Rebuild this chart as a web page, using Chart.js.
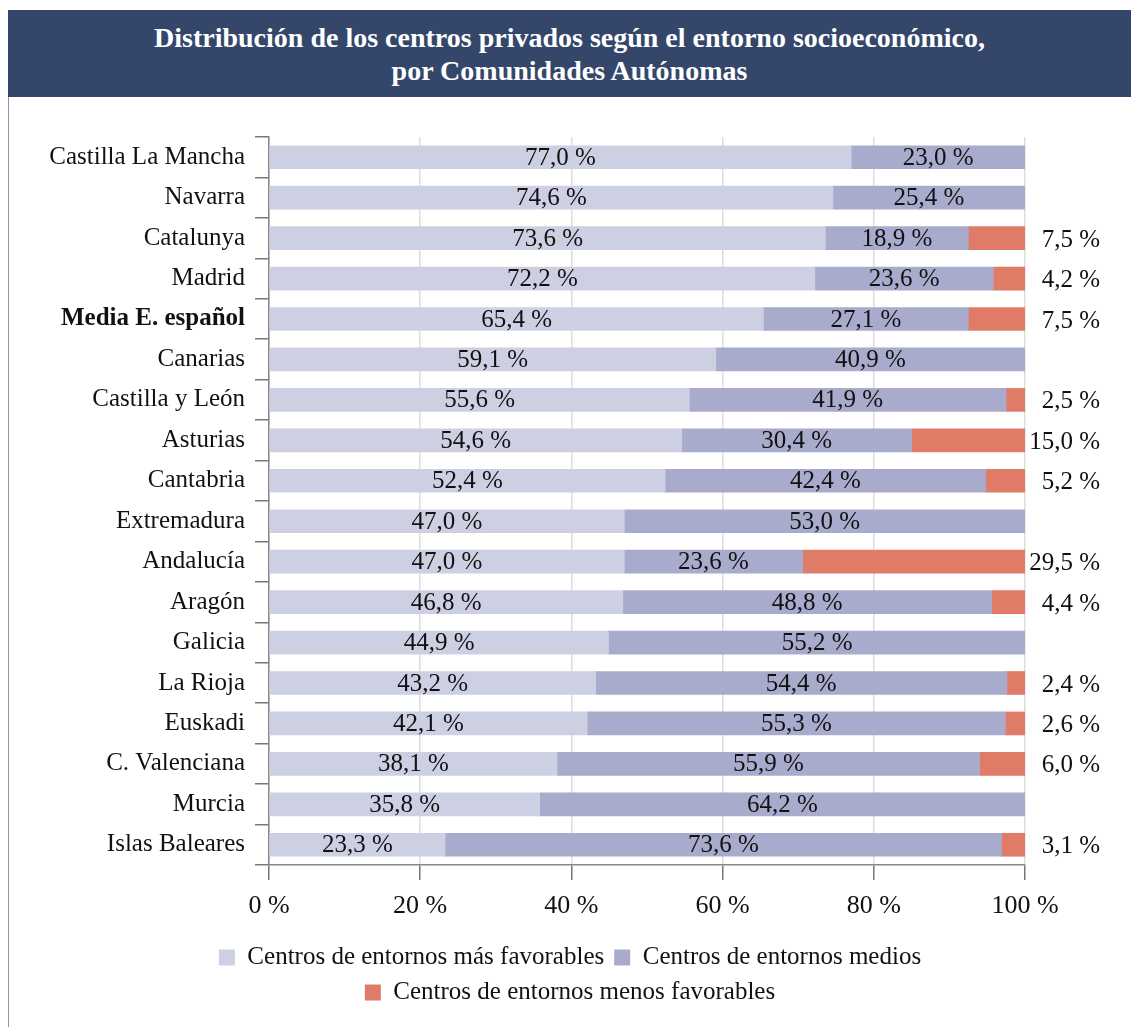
<!DOCTYPE html>
<html>
<head>
<meta charset="utf-8">
<script src="https://cdn.jsdelivr.net/npm/chart.js@4"></script>
<style>
  body { margin: 0; background: #fff; }
  #marco {
    position: absolute; left: 8px; top: 10px; width: 1123px; height: 1017px;
    border-left: 1px solid #8a97b3; box-sizing: border-box;
  }
  #titulo {
    background: #34476a; color: #fff; height: 87px;
    font-family: "Liberation Serif", serif; font-weight: bold; font-size: 28px;
    text-align: center; line-height: 33px; padding-top: 11px; box-sizing: border-box;
    margin-left: -1px;
  }
  #caja { position: relative; width: 1122px; height: 930px; }
</style>
</head>
<body>
<div id="marco">
  <div id="titulo">Distribución de los centros privados según el entorno socioeconómico,<br>por Comunidades Autónomas</div>
  <div id="caja"><canvas id="grafico"></canvas></div>
</div>
<script>
// Datos del gráfico
const comunidades = ["Castilla La Mancha", "Navarra", "Catalunya", "Madrid", "Media E. español", "Canarias",
  "Castilla y León", "Asturias", "Cantabria", "Extremadura", "Andalucía", "Aragón", "Galicia",
  "La Rioja", "Euskadi", "C. Valenciana", "Murcia", "Islas Baleares"];
const masFavorables = [77.0, 74.6, 73.6, 72.2, 65.4, 59.1, 55.6, 54.6, 52.4, 47.0, 47.0, 46.8, 44.9, 43.2, 42.1, 38.1, 35.8, 23.3];
const medios = [23.0, 25.4, 18.9, 23.6, 27.1, 40.9, 41.9, 30.4, 42.4, 53.0, 23.6, 48.8, 55.2, 54.4, 55.3, 55.9, 64.2, 73.6];
const menosFavorables = [null, null, 7.5, 4.2, 7.5, null, 2.5, 15.0, 5.2, null, 29.5, 4.4, null, 2.4, 2.6, 6.0, null, 3.1];
const ticksX = [0, 20, 40, 60, 80, 100];

const fuente = "Liberation Serif";

function formato(v) {
  return v.toFixed(1).replace(".", ",") + " %";
}

// Etiquetas de valor dentro de las barras (y fuera para la tercera serie)
const etiquetas = {
  id: "etiquetas",
  afterDatasetsDraw(chart) {
    const ctx = chart.ctx;
    ctx.save();
    ctx.font = "25px '" + fuente + "'";
    ctx.fillStyle = "#111";
    ctx.textBaseline = "middle";
    chart.data.datasets.forEach((ds, i) => {
      const meta = chart.getDatasetMeta(i);
      meta.data.forEach((bar, j) => {
        const v = ds.data[j];
        if (v === null || v === undefined) return;
        if (i < 2) {
          ctx.textAlign = "center";
          ctx.fillText(formato(v), (bar.x + bar.base) / 2, bar.y + 1);
        } else {
          ctx.textAlign = "right";
          ctx.fillText(formato(v), chart.chartArea.right + 75, bar.y + 2);
        }
      });
    });
    ctx.restore();
  }
};

new Chart(document.getElementById("grafico"), {
  type: "bar",
  data: {
    labels: comunidades,
    datasets: [
      { label: "Centros de entornos más favorables", data: masFavorables, backgroundColor: "#cdd0e3", barThickness: 23 },
      { label: "Centros de entornos medios", data: medios, backgroundColor: "#a8abcb", barThickness: 23 },
      { label: "Centros de entornos menos favorables", data: menosFavorables, backgroundColor: "#e07b67", barThickness: 23 }
    ]
  },
  options: {
    indexAxis: "y",
    responsive: true,
    maintainAspectRatio: false,
    animation: false,
    layout: { padding: { top: 40, right: 0, left: 0, bottom: 12 } },
    scales: {
      x: {
        stacked: true,
        min: 0,
        max: 100,
        afterBuildTicks: (scale) => { scale.ticks = ticksX.map(v => ({ value: v })); },
        afterFit: (scale) => { scale.height = 70; },
        grid: { color: "#dddddd", tickColor: "#777", tickLength: 15, lineWidth: 1.5 },
        border: { color: "#888", width: 1.5 },
        ticks: {
          color: "#111",
          padding: 11,
          font: { family: fuente, size: 26 },
          callback: (v) => v + " %"
        }
      },
      y: {
        stacked: true,
        afterFit: (scale) => { scale.width = 260; },
        grid: { offset: true, drawOnChartArea: false, color: "#777", tickLength: 14, lineWidth: 1.5 },
        border: { color: "#888", width: 1.5 },
        ticks: {
          color: "#111",
          padding: 10,
          font: (c) => ({ family: fuente, size: 25, weight: c.index === 4 ? "bold" : "normal" })
        }
      },
      // eje vacío a la derecha, reserva sitio para las etiquetas de la tercera serie
      derecha: {
        type: "linear",
        position: "right",
        afterFit: (scale) => { scale.width = 106; },
        grid: { display: false },
        border: { display: false },
        ticks: { display: false }
      }
    },
    plugins: {
      legend: {
        position: "bottom",
        labels: {
          color: "#111",
          boxWidth: 16,
          boxHeight: 16,
          padding: 10,
          font: { family: fuente, size: 25 }
        }
      },
      tooltip: { enabled: false }
    }
  },
  plugins: [etiquetas]
});
</script>
</body>
</html>
